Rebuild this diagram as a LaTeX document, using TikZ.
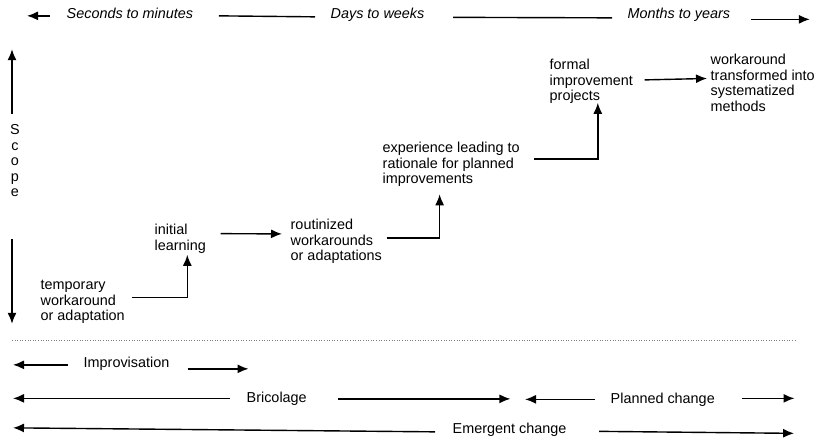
\documentclass[tikz,border=0pt]{standalone}
\usepackage{fontspec}
\setmainfont{Liberation Sans}
\usetikzlibrary{arrows.meta}

\begin{document}
\begin{tikzpicture}[x=1pt,y=1pt,line width=1.4pt,
    arr/.style={-{Latex[length=11pt,width=9pt]}},
    every node/.style={inner sep=0pt,font=\fontsize{14.4}{15.5}\selectfont},
    stage/.style={anchor=north west,align=left},
    span/.style={anchor=base west}]
     \useasboundingbox (0,0) rectangle (819,443);
     \node[span] (sec)  at ( 66,424.5) {\itshape Seconds to minutes};
     \node[span] (days) at (330,424)   {\itshape Days to weeks};
     \node[span] (mon)  at (627,424)   {\itshape Months to years};
     \draw[arr] ([xshift=-16pt]sec.mid west) -- ++(-23,0);
     \draw ([xshift=25pt]sec.mid east) -- ([xshift=-15pt,yshift=-0.5pt]days.mid west);
     \draw ([xshift=28pt,yshift=-1pt]days.mid east) -- ([xshift=-15pt,yshift=-1.5pt]mon.mid west);
     \draw[arr] ([xshift=20pt,yshift=-3pt]mon.mid east) -- ++(59,0);
     \node[align=center] (scope) at (15,282) {S\\c\\o\\p\\e};
     \draw[arr] ([xshift=-3pt,yshift=10pt]scope.north) -- ++(0,65);
     \draw[arr] ([xshift=-3pt,yshift=-41pt]scope.south) -- ++(0,-85);
     \node[stage] (tmp)  at ( 40,163.5) {temporary\\workaround\\or adaptation};
     \node[stage] (init) at (154,219.5) {initial\\learning};
     \node[stage] (rout) at (290,224.5) {routinized\\workarounds\\or adaptations};
     \node[stage] (expe) at (382,301.5) {experience leading to\\rationale for planned\\improvements};
     \node[stage] (form) at (549,384.5) {formal\\improvement\\projects};
     \node[stage] (syst) at (710,389.5) {workaround\\transformed into\\systematized\\methods};
     \draw[arr] ([xshift=7pt,yshift=4.5pt]tmp.east) -| ([xshift=7pt,yshift=-1pt]init.south);
     \draw[arr] ([xshift=14pt,yshift=5pt]init.east) -- ([xshift=-8pt,yshift=7.5pt]rout.west);
     \draw[arr] ([xshift=4pt,yshift=3.5pt]rout.east) -| ([xshift=-11.5pt,yshift=-7pt]expe.south);
     \draw[arr] ([xshift=14pt,yshift=5.5pt]expe.east) -| ([xshift=6.5pt,yshift=1.5pt]form.south);
     \draw[arr] ([xshift=11pt,yshift=1.5pt]form.east) -- ([xshift=-3pt,yshift=4.25pt]syst.west);
     \draw[dotted,line width=0.6pt,color=gray] (12,103) -- (795,103);
     \node[span] (impr) at ( 83,75.5) {Improvisation};
     \node[span] (bric) at (246,40.5) {Bricolage};
     \node[span] (plan) at (610,39.5) {Planned change};
     \node[span] (emer) at (452, 9.5) {Emergent change};
     \draw[arr] ([xshift=-15pt]impr.mid west) -- ++(-55,0);
     \draw[arr] ([xshift=17.5pt,yshift=-4pt]impr.mid east) -- ++(61,0);
     \draw[arr] ([xshift=-16pt,yshift=1.5pt]bric.mid west) -- ++(-217,0);
     \draw[arr] ([xshift=31pt,yshift=1pt]bric.mid east) -- ++(172,0);
     \draw[arr] ([xshift=-15pt,yshift=1.5pt]plan.mid west) -- ++(-70,0);
     \draw[arr] ([xshift=26pt,yshift=2.5pt]plan.mid east) -- ++(53,0);
     \draw[arr] ([xshift=-17pt,yshift=-1pt]emer.mid west) -- ++(-422,4);
     \draw[arr] ([xshift=32pt,yshift=-0.5pt]emer.mid east) -- ++(195,-2);
\end{tikzpicture}
\end{document}
